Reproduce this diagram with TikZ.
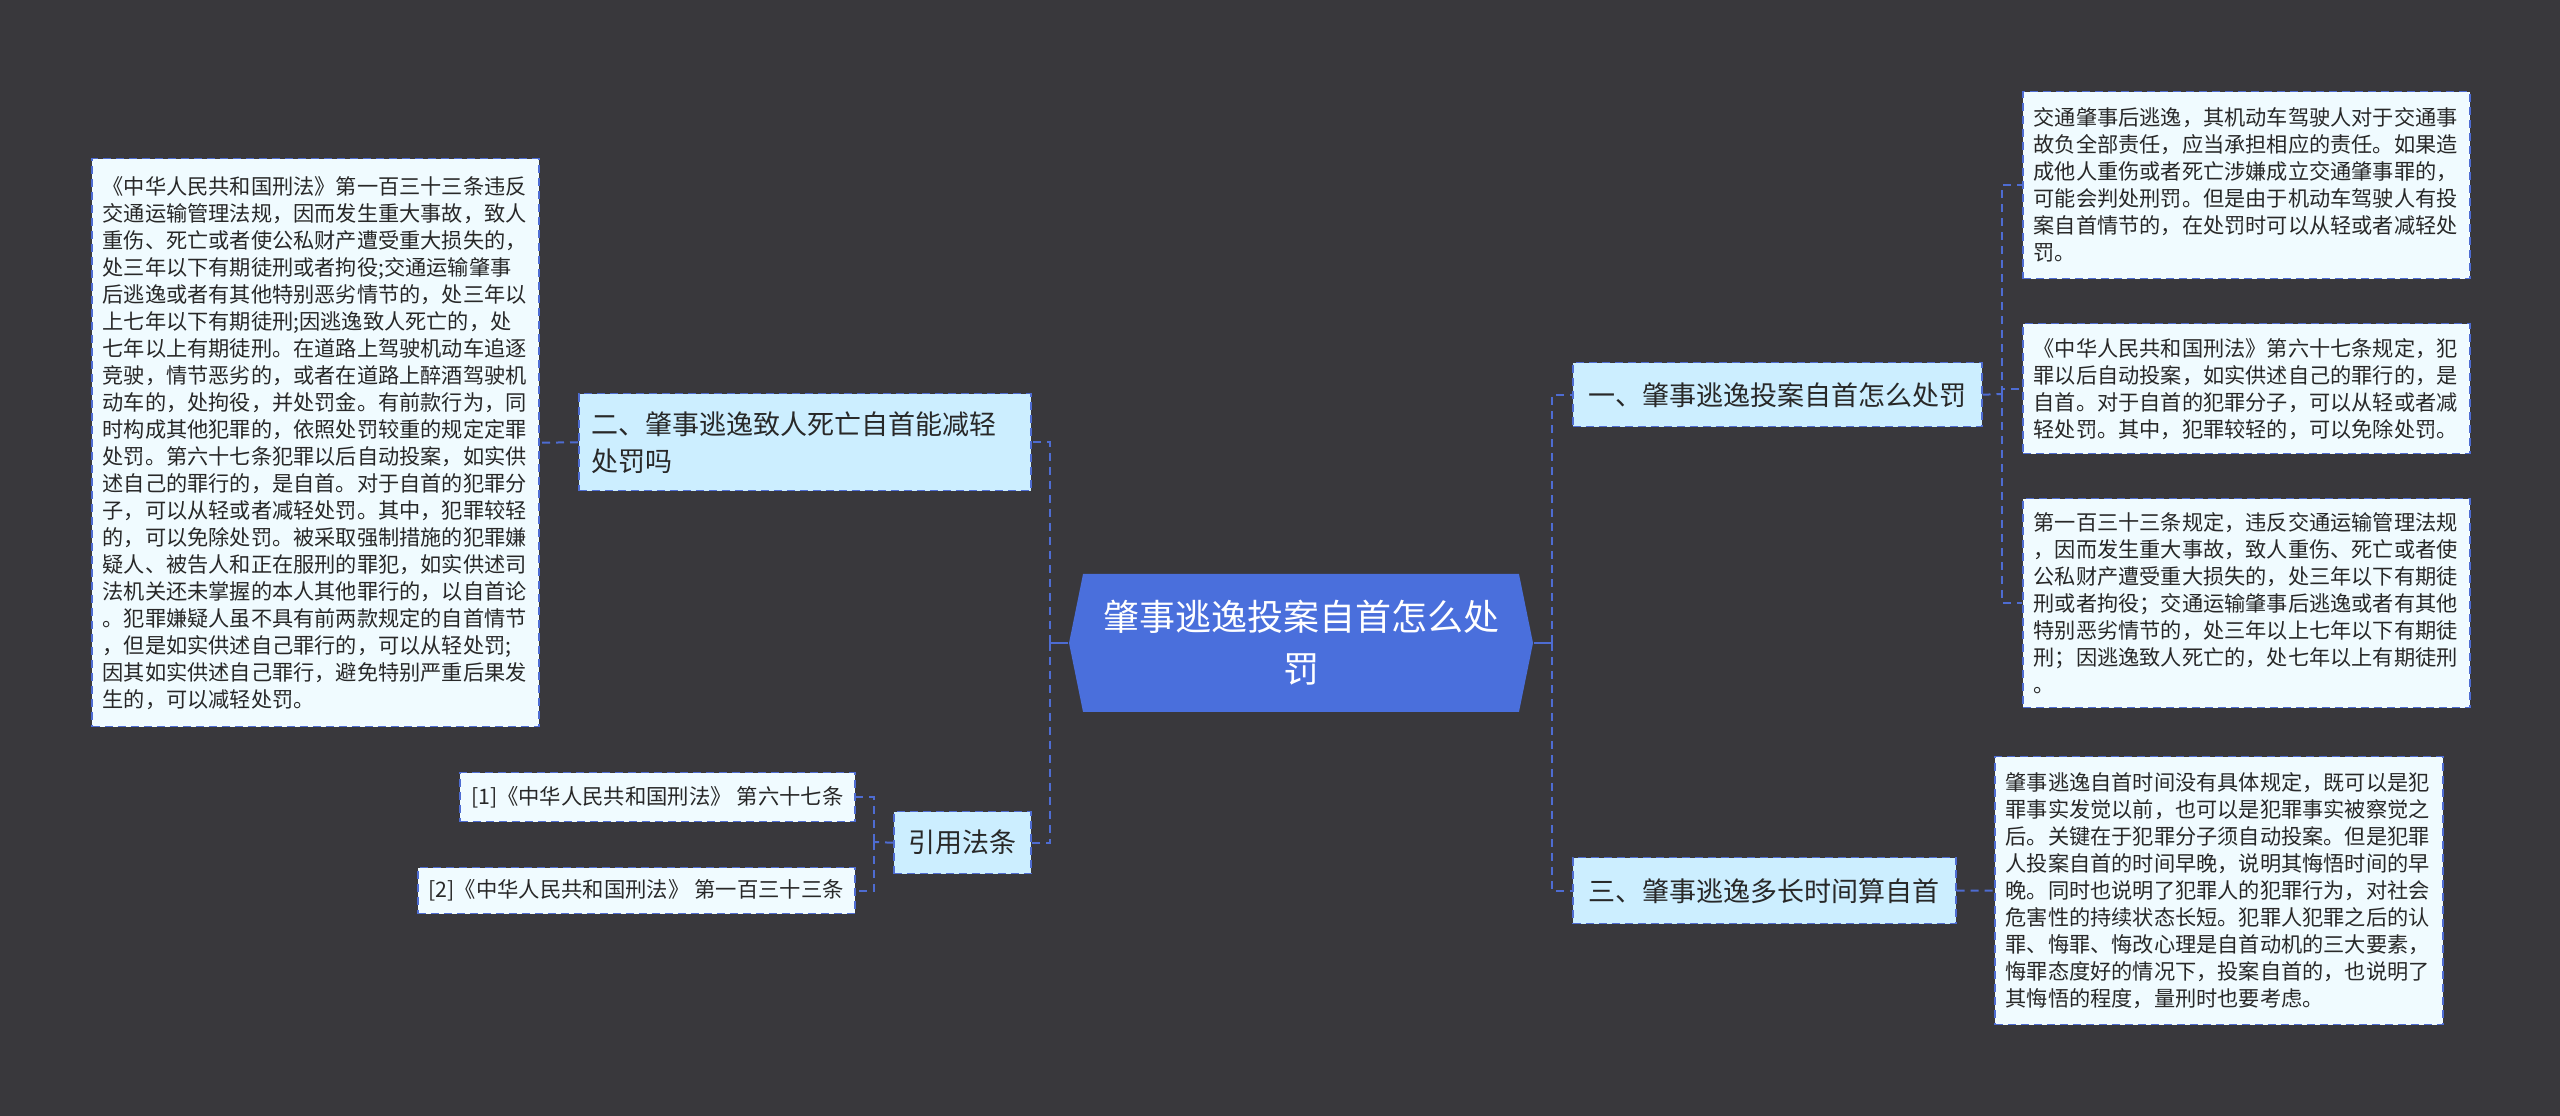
\documentclass[tikz,border=0pt]{standalone}
\usepackage{fontspec}
\setmainfont{Noto Sans CJK SC}
\usetikzlibrary{shapes.symbols}

\definecolor{bgdark}{RGB}{57,56,60}
\definecolor{rootblue}{RGB}{74,111,220}
\definecolor{branchfill}{RGB}{204,238,255}
\definecolor{leaffill}{RGB}{240,251,255}
\definecolor{linkblue}{RGB}{78,108,210}
\definecolor{textdark}{RGB}{40,40,40}

\tikzset{
  leafbox/.style={draw=linkblue, dash pattern=on 2.4pt off 1.5pt, line width=0.45pt, fill=leaffill, text=textdark, anchor=north west, inner xsep=3.3pt, inner ysep=0pt, align=left, font=\fontsize{6.36pt}{8.1pt}\selectfont},
  refbox/.style={leafbox, align=center, inner xsep=2.4pt, font=\fontsize{6.4pt}{8.1pt}\selectfont},
  branchbox/.style={draw=linkblue, dash pattern=on 2.4pt off 1.5pt, line width=0.45pt, fill=branchfill, text=textdark, anchor=north west, inner xsep=3.9pt, inner ysep=0pt, align=left, font=\fontsize{8.1pt}{11.1pt}\selectfont},
  link/.style={draw=linkblue, line width=0.6pt, dash pattern=on 2.4pt off 1.8pt},
  stem/.style={draw=linkblue, line width=0.75pt},
}

\begin{document}
\begin{tikzpicture}[x=0.3pt,y=0.3pt,yscale=-1,xscale=1]
%set diagram: 2560 wide, 1116 high
\fill[bgdark] (0,0) rectangle (2560,1116);

%Shape: Root
\node (root) [shape=signal, signal to=west and east, signal pointer angle=157, minimum width=139.2pt, minimum height=41.4pt, inner sep=0pt, fill=rootblue, text=white, align=center, font=\fontsize{10.8pt}{15.6pt}\selectfont] at (1301,643) {肇事逃逸投案自首怎么处\\罚};

% Text Node
\node (two) [branchbox, text width=127.8pt, minimum height=29.1pt] at (578,393) {二、肇事逃逸致人死亡自首能减轻\\处罚吗};
% Text Node
\node (cite) [branchbox, minimum width=41.1pt, minimum height=18.6pt, align=center] at (893,811) {引用法条};
% Text Node
\node (one) [branchbox, minimum width=122.7pt, minimum height=19.2pt] at (1572,362) {一、肇事逃逸投案自首怎么处罚};
% Text Node
\node (three) [branchbox, minimum width=114.9pt, minimum height=19.8pt] at (1572,857) {三、肇事逃逸多长时间算自首};

% Text Node
\node (lawL) [leafbox, text width=127.5pt, minimum height=170.4pt] at (91,158) {《中华人民共和国刑法》第一百三十三条违反\\交通运输管理法规，因而发生重大事故，致人\\重伤、死亡或者使公私财产遭受重大损失的，\\处三年以下有期徒刑或者拘役;交通运输肇事\\后逃逸或者有其他特别恶劣情节的，处三年以\\上七年以下有期徒刑;因逃逸致人死亡的，处\\七年以上有期徒刑。在道路上驾驶机动车追逐\\竞驶，情节恶劣的，或者在道路上醉酒驾驶机\\动车的，处拘役，并处罚金。有前款行为，同\\时构成其他犯罪的，依照处罚较重的规定定罪\\处罚。第六十七条犯罪以后自动投案，如实供\\述自己的罪行的，是自首。对于自首的犯罪分\\子，可以从轻或者减轻处罚。其中，犯罪较轻\\的，可以免除处罚。被采取强制措施的犯罪嫌\\疑人、被告人和正在服刑的罪犯，如实供述司\\法机关还未掌握的本人其他罪行的，以自首论\\。犯罪嫌疑人虽不具有前两款规定的自首情节\\，但是如实供述自己罪行的，可以从轻处罚;\\因其如实供述自己罪行，避免特别严重后果发\\生的，可以减轻处罚。};
% Text Node
\node (ref1) [refbox, minimum width=118.5pt, minimum height=14.7pt] at (459,772) {[1]《中华人民共和国刑法》 第六十七条};
% Text Node
\node (ref2) [refbox, minimum width=131.1pt, minimum height=13.8pt] at (417,867) {[2]《中华人民共和国刑法》 第一百三十三条};
% Text Node
\node (r1) [leafbox, text width=127.5pt, minimum height=56.1pt] at (2022,91) {交通肇事后逃逸，其机动车驾驶人对于交通事\\故负全部责任，应当承担相应的责任。如果造\\成他人重伤或者死亡涉嫌成立交通肇事罪的，\\可能会判处刑罚。但是由于机动车驾驶人有投\\案自首情节的，在处罚时可以从轻或者减轻处\\罚。};
% Text Node
\node (r2) [leafbox, text width=127.5pt, minimum height=39pt] at (2022,323) {《中华人民共和国刑法》第六十七条规定，犯\\罪以后自动投案，如实供述自己的罪行的，是\\自首。对于自首的犯罪分子，可以从轻或者减\\轻处罚。其中，犯罪较轻的，可以免除处罚。};
% Text Node
\node (r3) [leafbox, text width=127.5pt, minimum height=62.7pt] at (2022,498) {第一百三十三条规定，违反交通运输管理法规\\，因而发生重大事故，致人重伤、死亡或者使\\公私财产遭受重大损失的，处三年以下有期徒\\刑或者拘役；交通运输肇事后逃逸或者有其他\\特别恶劣情节的，处三年以上七年以下有期徒\\刑；因逃逸致人死亡的，处七年以上有期徒刑\\。};
% Text Node
\node (r4) [leafbox, text width=127.8pt, minimum height=80.4pt] at (1994,756) {肇事逃逸自首时间没有具体规定，既可以是犯\\罪事实发觉以前，也可以是犯罪事实被察觉之\\后。关键在于犯罪分子须自动投案。但是犯罪\\人投案自首的时间早晚，说明其悔悟时间的早\\晚。同时也说明了犯罪人的犯罪行为，对社会\\危害性的持续状态长短。犯罪人犯罪之后的认\\罪、悔罪、悔改心理是自首动机的三大要素，\\悔罪态度好的情况下，投案自首的，也说明了\\其悔悟的程度，量刑时也要考虑。};

%Straight Lines: left side
\coordinate (jL) at (1050,643);
\draw[stem] (root.west) -- (jL);
\draw[stem] (1050,635) -- (1050,651);
\draw[link] (jL) |- (two.east);
\draw[link] (jL) |- (cite.east);
\draw[link] (two.west) -- (lawL.east);
\coordinate (jCite) at (874,842);
\draw[link] (cite.west) -- (jCite);
\draw[link] (jCite) |- (ref1.east);
\draw[link] (jCite) |- (ref2.east);

%Straight Lines: right side
\coordinate (jR) at (1552,643);
\draw[stem] (root.east) -- (jR);
\draw[stem] (1552,635) -- (1552,651);
\draw[link] (jR) |- (one.west);
\draw[link] (jR) |- (three.west);
\coordinate (jOne) at (2002,394);
\draw[link] (one.east) -- (jOne);
\draw[link] (jOne) |- (r1.west);
\draw[link] (jOne) |- (r2.west);
\draw[link] (jOne) |- (r3.west);
\draw[link] (three.east) -- (r4.west);

\end{tikzpicture}
\end{document}
